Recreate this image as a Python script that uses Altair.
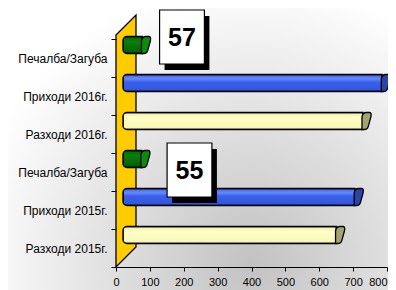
import altair as alt
import pandas as pd

# ---- data ----
categories = ["Печалба/Загуба", "Приходи 2016г.", "Разходи 2016г.",
              "Печалба/Загуба", "Приходи 2015г.", "Разходи 2015г."]
values = [57, 765, 708, 55, 685, 630]
kinds = ["profit", "income", "expense", "profit", "income", "expense"]
x_ticks = [0, 100, 200, 300, 400, 500, 600, 700, 800]

keys = [f"{i}|{c}" for i, c in enumerate(categories)]
df = pd.DataFrame({"key": keys, "cat": categories, "value": values, "kind": kinds})

# ---- geometry / style constants ----
W, H = 271, 228
DX, DY = 7, -13          # 3D depth offset of bars
BAR_H = 17
wall = pd.DataFrame({"x": [0, 59], "lo": [0, 20], "hi": [232, 252]})

FONT = "Liberation Sans"

x_scale = alt.Scale(domain=[0, 800], nice=False)
x_scale_depth = alt.Scale(domain=[0, 800], nice=False, range=[DX, W + DX])
x_axis = alt.Axis(values=x_ticks, title=None, grid=False, domainColor="black",
                  tickColor="black", tickSize=4, labelFontSize=11, labelFont=FONT,
                  labelColor="black", labelPadding=5, zindex=1, labelFlush=False,
                  labelAlign={"condition": {"test": "datum.value == 800", "value": "right"},
                              "value": "center"},
                  orient="bottom")
x_enc = alt.X("value:Q", scale=x_scale_depth, axis=None, title=None)
y_enc = alt.Y("key:N", sort=keys, scale=alt.Scale(paddingInner=0, paddingOuter=0),
              title=None,
              axis=alt.Axis(title=None, labelExpr="split(datum.label, '|')[1]",
                            tickBand="extent", domain=False, tickColor="black", tickSize=5,
                            labelFontSize=12, labelFont=FONT, labelColor="black",
                            labelPadding=4, grid=False, zindex=1, orient="left"))

bg = alt.Chart(pd.DataFrame({"a": [0]})).mark_rect(
    fill=alt.Gradient(gradient="radial", x1=0.64, y1=0.8, r1=0, x2=0.64, y2=0.8, r2=0.75,
                      stops=[alt.GradientStop(offset=0, color="#c2c2c2"),
                             alt.GradientStop(offset=1, color="#ffffff")])
).encode(x=alt.value(-108), x2=alt.value(W + 1), y=alt.value(-31), y2=alt.value(H + 23))

wall_layer = alt.Chart(wall).mark_area(
    fill="#FFCC00", stroke="black", strokeWidth=1.3, opacity=1
).encode(
    x=alt.X("x:Q", scale=x_scale, axis=x_axis, title=None),
    y=alt.Y("hi:Q", scale=alt.Scale(domain=[0, H], nice=False, zero=False), axis=None),
    y2="lo:Q",
)

fills = {
    "income": alt.Gradient(gradient="linear", x1=0, y1=0, x2=0, y2=1, stops=[
        alt.GradientStop(offset=0, color="#3f64ea"),
        alt.GradientStop(offset=0.25, color="#6688ff"),
        alt.GradientStop(offset=0.45, color="#3a60ea"),
        alt.GradientStop(offset=1, color="#2f55dc")]),
    "expense": alt.Gradient(gradient="linear", x1=0, y1=0, x2=0, y2=1, stops=[
        alt.GradientStop(offset=0, color="#eeeea0"),
        alt.GradientStop(offset=0.3, color="#ffffc8"),
        alt.GradientStop(offset=1, color="#f6f6b4")]),
    "profit": alt.Gradient(gradient="linear", x1=0, y1=0, x2=0, y2=1, stops=[
        alt.GradientStop(offset=0, color="#006a00"),
        alt.GradientStop(offset=0.3, color="#0a800a"),
        alt.GradientStop(offset=1, color="#005c00")]),
}
cap_fill = {"income": "#2b44a8", "expense": "#a3a374", "profit": "#0c8c0c"}

CAP = "M-0.1,1 L-0.1,-0.5 Q0,-1 0.4,-1 L0.8,-1 Q1.05,-0.95 0.95,-0.5 L0.65,0.6 Q0.55,1 0.15,1 Z"
BOX = "M-0.83,-1 L0.83,-1 L0.83,1 L-0.83,1 Z"

inner = []
for k in ["expense", "income", "profit"]:
    base = alt.Chart(df).transform_filter(alt.datum.kind == k)
    inner.append(base.mark_bar(
        fill=fills[k], stroke="black", strokeWidth=1.4, size=BAR_H, yOffset=DY,
        cornerRadiusTopLeft=4, cornerRadiusBottomLeft=4
    ).encode(x=x_enc, y=y_enc))
    inner.append(base.mark_point(
        shape=CAP, size=BAR_H ** 2, filled=True, fill=cap_fill[k], stroke="black",
        strokeWidth=1.3, opacity=1, yOffset=DY
    ).encode(x=x_enc, y=y_enc))

label_pos = {keys[0]: (66 - DX, -21), keys[3]: (73.5 - DX, -2)}
for key, (ox, oy) in label_pos.items():
    base = alt.Chart(df).transform_filter(alt.datum.key == key).transform_calculate(zero="0")
    zx = alt.X("zero:Q", scale=x_scale_depth, axis=None, title=None)
    inner.append(base.mark_point(
        shape=BOX, size=54 ** 2, filled=True, fill="black", opacity=1,
        xOffset=ox + 5, yOffset=oy + 6
    ).encode(x=zx, y=y_enc))
    inner.append(base.mark_point(
        shape=BOX, size=54 ** 2, filled=True, fill="white", stroke="black", strokeWidth=1.2,
        opacity=1, xOffset=ox, yOffset=oy
    ).encode(x=zx, y=y_enc))
    inner.append(base.mark_text(
        font=FONT, fontSize=25, fontWeight="bold", color="black", baseline="middle",
        align="center", xOffset=ox, yOffset=oy + 1
    ).encode(x=zx, y=y_enc, text=alt.Text("value:Q")))

chart = alt.layer(bg, wall_layer, alt.layer(*inner)).resolve_scale(
    x="independent", y="independent"
).properties(
    width=W, height=H,
    autosize=alt.AutoSizeParams(type="none"),
    padding={"left": 108, "top": 31, "right": 1, "bottom": 23},
    background="white",
).configure_view(stroke=None)

chart.save("out.html", embed_options={"renderer": "svg", "actions": False})
